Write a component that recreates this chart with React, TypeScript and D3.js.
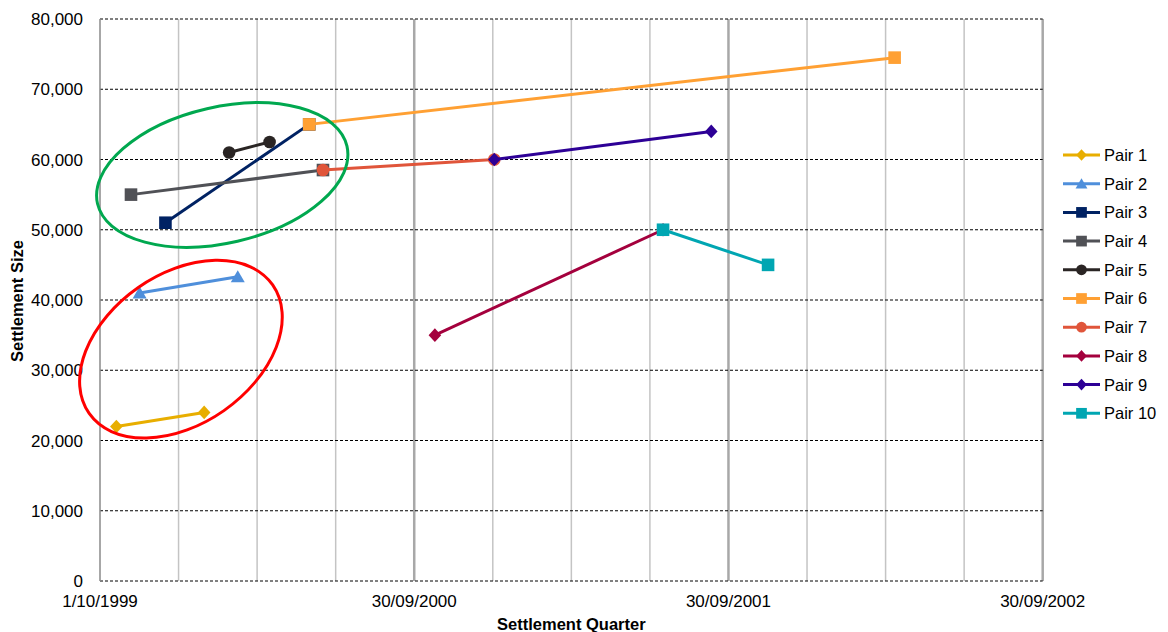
import React from "react";
import * as d3 from "d3";

// Settlement size per pair: each pair is a start and an end settlement.
const pairNames = ["Pair 1", "Pair 2", "Pair 3", "Pair 4", "Pair 5", "Pair 6", "Pair 7", "Pair 8", "Pair 9", "Pair 10"];
const pairDates = [
  ["1999-10-20", "2000-01-30"],
  ["1999-11-16", "2000-03-09"],
  ["1999-12-16", "2000-05-31"],
  ["1999-11-06", "2000-06-16"],
  ["2000-02-28", "2000-04-15"],
  ["2000-05-31", "2002-04-11"],
  ["2000-06-16", "2001-01-01"],
  ["2000-10-24", "2001-07-16"],
  ["2001-01-01", "2001-09-10"],
  ["2001-07-16", "2001-11-15"],
];
const pairValues = [
  [22000, 24000],
  [41000, 43300],
  [51000, 65000],
  [55000, 58500],
  [61000, 62500],
  [65000, 74500],
  [58500, 60000],
  [35000, 50000],
  [60000, 64000],
  [50000, 45000],
];
const pairColors = ["#e8ae00", "#4f8fdb", "#002263", "#505156", "#2a2524", "#ffa033", "#e0553a", "#a4003d", "#2d0096", "#00a6b2"];
const pairMarkers = ["diamond", "triangle", "square", "square", "circle", "square", "circle", "diamond", "diamond", "square"];

// Axis settings
const axisStart = "1999-10-01";
const axisDays = 1095;
const majorStepDays = 365;
const minorPerMajor = 4;
const yTicks = [0, 10000, 20000, 30000, 40000, 50000, 60000, 70000, 80000];

// Highlight rings around groups of pairs
const ringDates = ["2000-02-20", "2000-01-03"];
const ringValues = [57800, 33000];
const ringColors = ["#00a84f", "#ff0000"];
const ringRadii = [[128, 68], [112, 75]];
const ringAngles = [-13, -35];

const W = 1168;
const H = 632;
const plot = { left: 100, right: 1042.7, top: 19, bottom: 581 };
const FONT = "'Liberation Sans', Arial, sans-serif";

const parse = d3.utcParse("%Y-%m-%d");
const DAY = 86400000;

function markerPath(kind: string): string {
  if (kind === "diamond") return "M0,-6.8L6.3,0L0,6.8L-6.3,0Z";
  if (kind === "triangle") return "M0,-6.5L7,5.5L-7,5.5Z";
  if (kind === "square") return "M-6.3,-6.3H6.3V6.3H-6.3Z";
  return d3.symbol(d3.symbolCircle, 125)() as string;
}

export default function App() {
  const start = parse(axisStart) as Date;
  const end = new Date(start.getTime() + axisDays * DAY);
  const x = d3.scaleTime().domain([start, end]).range([plot.left, plot.right]);
  const y = d3.scaleLinear().domain([0, 80000]).range([plot.bottom, plot.top]);

  const nMajor = Math.round(axisDays / majorStepDays);
  const majorDates = d3.range(nMajor + 1).map((k) => new Date(start.getTime() + k * majorStepDays * DAY));
  const minorDates = d3
    .range(1, nMajor * minorPerMajor)
    .filter((k) => k % minorPerMajor !== 0)
    .map((k) => new Date(start.getTime() + (k * majorStepDays * DAY) / minorPerMajor));
  const fmtDate = d3.utcFormat("%-d/%m/%Y");
  const fmtNum = d3.format(",");

  const line = d3
    .line<[Date, number]>()
    .x((d) => x(d[0]))
    .y((d) => y(d[1]));

  const series = pairNames.map((name, i) => ({
    name,
    color: pairColors[i],
    marker: pairMarkers[i],
    pts: pairDates[i].map((ds, j) => [parse(ds) as Date, pairValues[i][j]] as [Date, number]),
  }));

  const legendX = 1063;
  const legendY0 = 155;
  const legendStep = 28.7;

  return (
    <svg width={W} height={H} style={{ display: "block", background: "#fff" }} fontFamily={FONT}>
      <style>{`body{margin:0}`}</style>
      {/* vertical gridlines */}
      {minorDates.map((d, i) => (
        <line key={"mn" + i} x1={x(d)} x2={x(d)} y1={plot.top} y2={plot.bottom} stroke="#c4c4c4" strokeWidth={1.5} />
      ))}
      {majorDates.slice(1).map((d, i) => (
        <line key={"mj" + i} x1={x(d)} x2={x(d)} y1={plot.top} y2={plot.bottom} stroke="#a8a8a8" strokeWidth={2.5} />
      ))}
      {/* horizontal dashed gridlines */}
      {yTicks.map((t) => (
        <line
          key={"h" + t}
          x1={plot.left}
          x2={plot.right}
          y1={y(t)}
          y2={y(t)}
          stroke="#000"
          strokeWidth={1}
          strokeDasharray="3,2"
        />
      ))}
      {/* value axis line */}
      <line x1={plot.left} x2={plot.left} y1={plot.top} y2={plot.bottom} stroke="#8a8a8a" strokeWidth={1.5} />

      {/* y tick labels */}
      {yTicks.map((t) => (
        <text key={"yl" + t} x={83} y={y(t)} dy="0.36em" textAnchor="end" fontSize={17} fill="#000">
          {fmtNum(t)}
        </text>
      ))}
      {/* x tick labels */}
      {majorDates.map((d, i) => (
        <text key={"xl" + i} x={x(d)} y={607} textAnchor="middle" fontSize={17} fill="#000">
          {fmtDate(d)}
        </text>
      ))}
      {/* axis titles */}
      <text x={(plot.left + plot.right) / 2} y={630} textAnchor="middle" fontSize={16.5} fontWeight="bold">
        Settlement Quarter
      </text>
      <text transform="translate(23,301) rotate(-90)" textAnchor="middle" fontSize={16.5} fontWeight="bold">
        Settlement Size
      </text>

      {/* series */}
      {series.map((s) => (
        <g key={s.name}>
          <path d={line(s.pts) as string} fill="none" stroke={s.color} strokeWidth={3} />
          {s.pts.map((p, j) => (
            <path key={j} d={markerPath(s.marker)} transform={`translate(${x(p[0])},${y(p[1])})`} fill={s.color} />
          ))}
        </g>
      ))}

      {/* highlight rings */}
      {ringDates.map((ds, i) => (
        <ellipse
          key={"r" + i}
          cx={0}
          cy={0}
          rx={ringRadii[i][0]}
          ry={ringRadii[i][1]}
          transform={`translate(${x(parse(ds) as Date)},${y(ringValues[i])}) rotate(${ringAngles[i]})`}
          fill="none"
          stroke={ringColors[i]}
          strokeWidth={3}
        />
      ))}

      {/* legend */}
      {series.map((s, i) => {
        const ly = legendY0 + i * legendStep;
        return (
          <g key={"lg" + i} transform={`translate(${legendX},${ly})`}>
            <line x1={0} x2={37} y1={0} y2={0} stroke={s.color} strokeWidth={3} />
            <g transform="translate(18.5,0) scale(0.85)">
              <path d={markerPath(s.marker)} fill={s.color} />
            </g>
            <text x={41} y={0} dy="0.36em" fontSize={16.5} fill="#000">
              {s.name}
            </text>
          </g>
        );
      })}
    </svg>
  );
}
